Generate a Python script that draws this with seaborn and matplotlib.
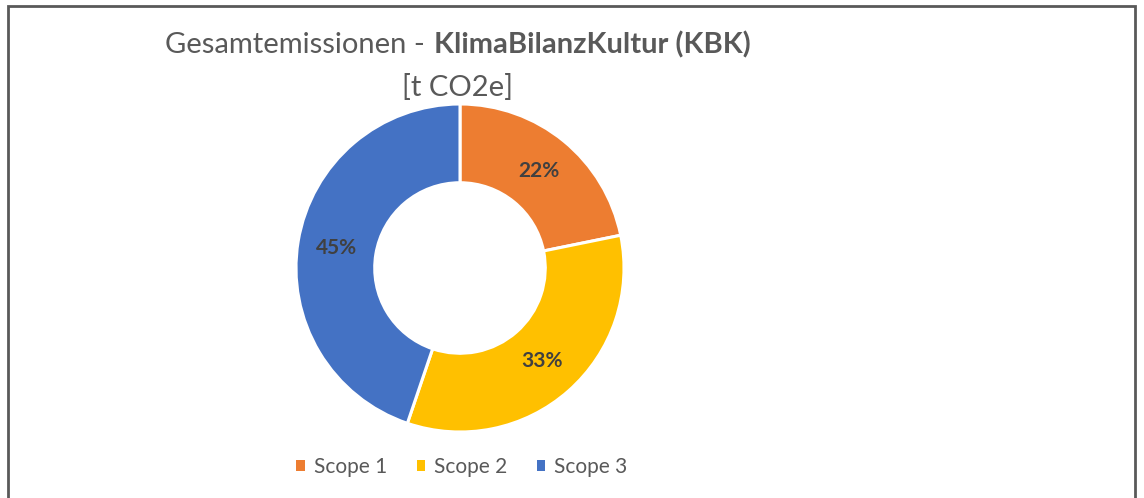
import matplotlib
matplotlib.use("Agg")
import matplotlib.pyplot as plt
from matplotlib.patches import Patch, Rectangle
import seaborn as sns

# Data (share of total emissions, %)
SCOPES = ["Scope 1", "Scope 2", "Scope 3"]
SHARES = [21.8, 33.4, 44.8]
COLORS = ["#ED7D31", "#FFC000", "#4472C4"]

TEXT_GREY = "#595959"
LABEL_GREY = "#404040"


def main():
    sns.set_theme(style="white")
    plt.rcParams["font.family"] = ["Lato", "DejaVu Sans"]
    palette = sns.color_palette(COLORS)

    W, H = 1144, 498
    fig = plt.figure(figsize=(W / 100, H / 100), dpi=100)
    fig.patch.set_facecolor("white")

    # donut axes: centre (460, 268) px, outer radius 164 px
    cx, cy, r = 460, 268, 164
    ax = fig.add_axes([(cx - r) / W, (H - cy - r) / H, 2 * r / W, 2 * r / H])
    wedges, _, autotexts = ax.pie(
        SHARES,
        colors=palette,
        startangle=90,
        counterclock=False,
        autopct=lambda p: "%d%%" % round(p),
        pctdistance=0.76,
        wedgeprops=dict(width=0.48, edgecolor="white", linewidth=2.2),
        textprops=dict(color=LABEL_GREY, fontsize=15, fontweight="bold"),
    )
    ax.set_xlim(-1, 1)
    ax.set_ylim(-1, 1)
    ax.set_aspect("equal")
    ax.axis("off")

    # title with mixed weight
    fig.text(425 / W, 1 - 53 / H, "Gesamtemissionen -", ha="right", va="baseline",
             fontsize=21, color=TEXT_GREY)
    fig.text(434 / W, 1 - 53 / H, "KlimaBilanzKultur (KBK)", ha="left", va="baseline",
             fontsize=21, fontweight="bold", color=TEXT_GREY)
    fig.text(457 / W, 1 - 87 / H, "[t CO2e]", ha="center", va="center",
             fontsize=21, color=TEXT_GREY)

    handles = [Patch(facecolor=c, edgecolor="none") for c in palette]
    fig.legend(handles, SCOPES, loc="center", bbox_to_anchor=(462 / W, 1 - 467 / H),
               ncol=3, frameon=False, fontsize=15, labelcolor=TEXT_GREY,
               handlelength=0.4, handleheight=0.4, handletextpad=0.45,
               columnspacing=1.4, borderpad=0)

    # chart frame
    fig.patches.append(Rectangle((8 / W, -0.02), (1135 - 8) / W, 1.02 - 6 / H,
                                 transform=fig.transFigure, fill=False,
                                 edgecolor="#595959", linewidth=2))

    fig.savefig("out.png", dpi=100)
    plt.close(fig)


if __name__ == "__main__":
    main()
